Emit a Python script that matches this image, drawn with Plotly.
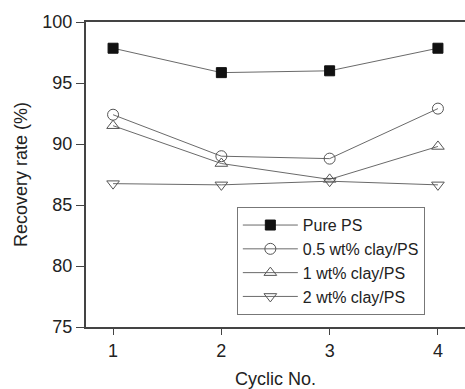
import plotly.graph_objects as go

cycles = [1, 2, 3, 4]
pure_ps = [97.85, 95.85, 96.0, 97.85]
clay_05 = [92.4, 89.0, 88.8, 92.9]
clay_1 = [91.5, 88.4, 87.1, 89.8]
clay_2 = [86.75, 86.65, 86.95, 86.65]

names = ["Pure PS", "0.5 wt% clay/PS", "1 wt% clay/PS", "2 wt% clay/PS"]
series = [pure_ps, clay_05, clay_1, clay_2]
symbols = ["square", "circle-open", "triangle-up-open", "triangle-down-open"]

fig = go.Figure()
for n, s, sym in zip(names, series, symbols):
    fig.add_trace(go.Scatter(
        x=cycles, y=s, name=n, mode="lines+markers",
        line=dict(color="#6a6a6a", width=1),
        marker=dict(symbol=sym, size=11 if sym != "square" else 10,
                    color="#111111" if sym == "square" else "#555555",
                    line=dict(color="#111111" if sym == "square" else "#555555", width=1)),
    ))

fig.update_layout(
    width=465, height=389,
    margin=dict(l=86, r=0, t=22, b=62),
    paper_bgcolor="white", plot_bgcolor="white",
    font=dict(family="Liberation Sans, Arial, sans-serif", color="#222222", size=18),
    showlegend=True,
    legend=dict(x=0.398, y=0.393, xanchor="left", yanchor="top",
                bordercolor="#777777", borderwidth=1, bgcolor="white",
                font=dict(size=16), itemwidth=55, tracegroupgap=0),
)
fig.update_xaxes(range=[0.75, 4.25], tickvals=cycles, ticktext=["1", "2", "3", "4"],
                 showline=True, linecolor="#444444", linewidth=2, mirror=True,
                 ticks="outside", ticklen=6, tickcolor="#444444", showgrid=False, zeroline=False,
                 title=dict(text="Cyclic No.", font=dict(size=18), standoff=14))
fig.update_yaxes(range=[75, 100], tickvals=[75, 80, 85, 90, 95, 100],
                 showline=True, linecolor="#444444", linewidth=2,
                 ticks="outside", ticklen=8, tickcolor="#444444", showgrid=False, zeroline=False,
                 title=dict(text="Recovery rate (%)", font=dict(size=18), standoff=10))

fig.write_html("out.html")
